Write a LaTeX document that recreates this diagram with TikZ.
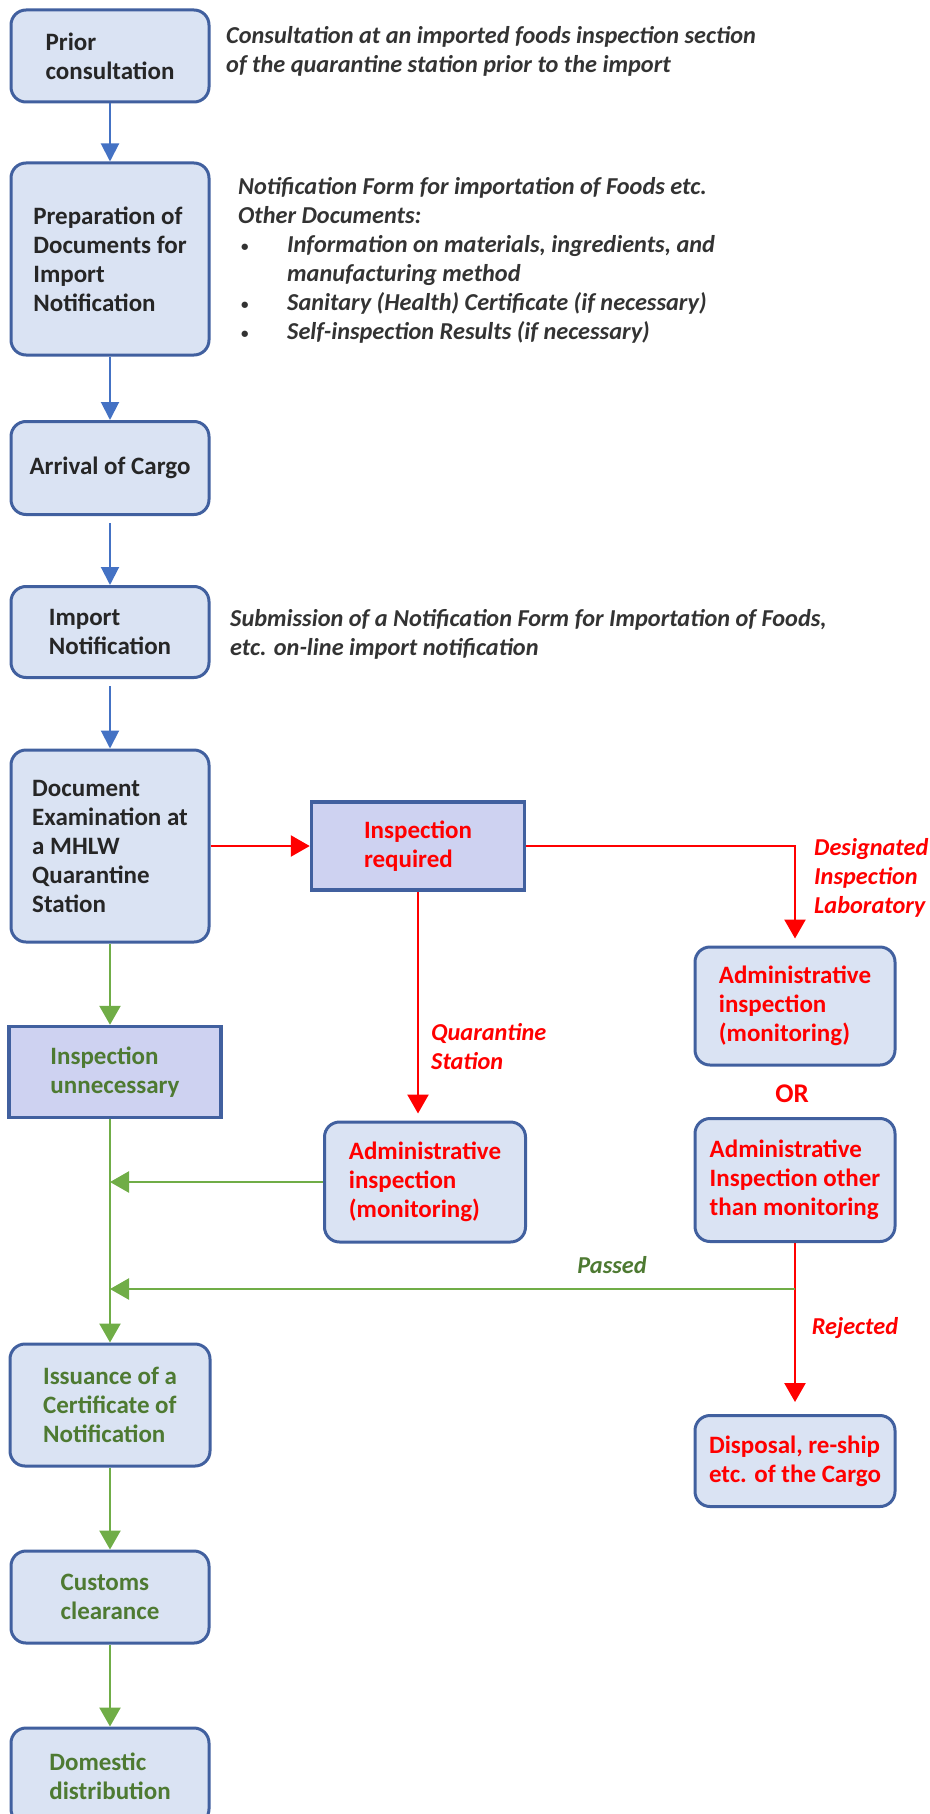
\documentclass[tikz,border=0pt]{standalone}
\usepackage{fontspec}
\setmainfont{Carlito}
\usetikzlibrary{arrows.meta}
\definecolor{boxfill}{HTML}{DAE3F3}
\definecolor{rectfill}{HTML}{CED2F1}
\definecolor{bord}{HTML}{41609F}
\definecolor{bluearr}{HTML}{4472C4}
\definecolor{greenarr}{HTML}{70AD47}
\definecolor{greentxt}{HTML}{4E7A32}
\definecolor{darktxt}{HTML}{262626}
\definecolor{notetxt}{HTML}{333333}
\definecolor{redc}{HTML}{FF0000}
\newcommand{\bxfont}{\fontsize{25}{29}\selectfont\bfseries}
\newcommand{\ntfont}{\fontsize{24.3}{29}\selectfont\bfseries\itshape}
\newcommand{\smbullet}{{\upshape\fontsize{15}{15}\selectfont\raisebox{1pt}{\textbullet}}}
\begin{document}
\begin{tikzpicture}[x=1pt,y=-1pt,
  rbox/.style={draw=bord, line width=3pt, fill=boxfill, rounded corners=15pt, inner sep=0pt, align=left, font=\bxfont},
  sbox/.style={draw=bord, line width=3.5pt, fill=rectfill, inner sep=0pt, align=left, font=\bxfont},
  note/.style={anchor=base west, inner sep=0pt, align=left, font=\ntfont, text=notetxt},
  lbl/.style={inner sep=0pt, align=left, font=\ntfont},
  blarr/.style={draw=bluearr, line width=2pt, -{Triangle[length=18pt,width=18pt]}},
  rarr/.style={draw=redc, line width=2.5pt, -{Triangle[length=19pt,width=21pt]}},
  garr/.style={draw=greenarr, line width=2.5pt, -{Triangle[length=19pt,width=21pt]}}
]
\useasboundingbox (0,0) rectangle (929,1814);

% left column
\node[rbox, text=darktxt, minimum width=198pt, minimum height=92pt] (prior) at (110,56) {Prior\\consultation};
\node[rbox, text=darktxt, minimum width=198pt, minimum height=192pt] (prep) at (110,259) {Preparation of\\Documents for\\Import\\Notification};
\node[rbox, text=darktxt, minimum width=198pt, minimum height=93pt] (arrival) at (110,468) {Arrival of Cargo};
\node[rbox, text=darktxt, minimum width=198pt, minimum height=91pt] (import) at (110,632) {Import\\Notification};
\node[rbox, text=darktxt, minimum width=198pt, minimum height=192pt] (docexam) at (110,846) {Document\\Examination at\\a MHLW\\Quarantine\\Station};
\node[sbox, text=greentxt, minimum width=212pt, minimum height=91pt] (unnec) at (115,1072) {Inspection\\unnecessary};
\node[rbox, text=greentxt, minimum width=200pt, minimum height=122pt] (issu) at (110,1405) {Issuance of a\\Certificate of\\Notification};
\node[rbox, text=greentxt, minimum width=198pt, minimum height=92pt] (customs) at (110,1597) {Customs\\clearance};
\node[rbox, text=greentxt, minimum width=198pt, minimum height=96pt] (domestic) at (110,1776) {Domestic\\distribution};

% middle and right
\node[sbox, text=redc, minimum width=213pt, minimum height=88pt] (req) at (418,846) {Inspection\\required};
\node[rbox, text=redc, minimum width=201pt, minimum height=120pt] (admmid) at (425,1182) {Administrative\\inspection\\(monitoring)};
\node[rbox, text=redc, minimum width=200pt, minimum height=118pt] (admright) at (795,1006) {Administrative\\inspection\\(monitoring)};
\node[inner sep=0pt, text=redc, font=\fontsize{27}{30}\selectfont\bfseries] (or) at (792,1094) {OR};
\node[rbox, text=redc, minimum width=200pt, minimum height=123pt] (admother) at (795,1180) {Administrative\\Inspection other\\than monitoring};
\node[rbox, text=redc, minimum width=200pt, minimum height=91pt] (disposal) at (795,1461) {Disposal, re-ship\\etc. of the Cargo};

% annotations (anchor = baseline of last line)
\node[note] (n1) at (226,73) {Consultation at an imported foods inspection section\\of the quarantine station prior to the import};
\node[note] (n2) at (238,339) {Notification Form for importation of Foods etc.\\Other Documents:\\
\hspace*{3pt}\makebox[46pt][l]{\smbullet}Information on materials, ingredients, and\\
\hspace*{49pt}manufacturing method\\
\hspace*{3pt}\makebox[46pt][l]{\smbullet}Sanitary (Health) Certificate (if necessary)\\
\hspace*{3pt}\makebox[46pt][l]{\smbullet}Self-inspection Results (if necessary)};
\node[note] (n3) at (230,655) {Submission of a Notification Form for Importation of Foods,\\etc. on-line import notification};

% labels
\node[lbl, text=redc, anchor=base west] (qs) at (431,1069) {Quarantine\\Station};
\node[lbl, text=redc, anchor=base west] (dil) at (814,913) {Designated\\Inspection\\Laboratory};
\node[lbl, text=greentxt] (passed) at (612,1265) {Passed};
\node[lbl, text=redc] (rej) at (855,1328) {Rejected};

% blue connectors
\draw[blarr] (prior) -- (prep);
\draw[blarr] (prep) -- (arrival);
\draw[blarr, shorten <=7pt] (arrival) -- (import);
\draw[blarr, shorten <=7pt] (import) -- (docexam);

% red connectors
\draw[rarr] (docexam) -- (req);
\draw[rarr, shorten >=7pt] (req.east) -| (admright.north);
\draw[rarr, shorten >=7pt] (req.south) -- (req.south |- admmid.north);
\draw[rarr, shorten >=12pt] (admother.south) -- (admother.south |- disposal.north);

% green connectors
\coordinate (py) at (0,1289);
\coordinate (split) at (admother.south |- py);
\draw[garr] (docexam) -- (docexam.south |- unnec.north);
\draw[garr] (unnec.south -| issu.north) -- (issu.north);
\draw[garr] (admmid.west) -- (admmid.west -| issu.north);
\draw[garr] (split) -- (split -| issu.north);
\draw[garr] (issu) -- (customs);
\draw[garr] (customs) -- (domestic);
\end{tikzpicture}
\end{document}
